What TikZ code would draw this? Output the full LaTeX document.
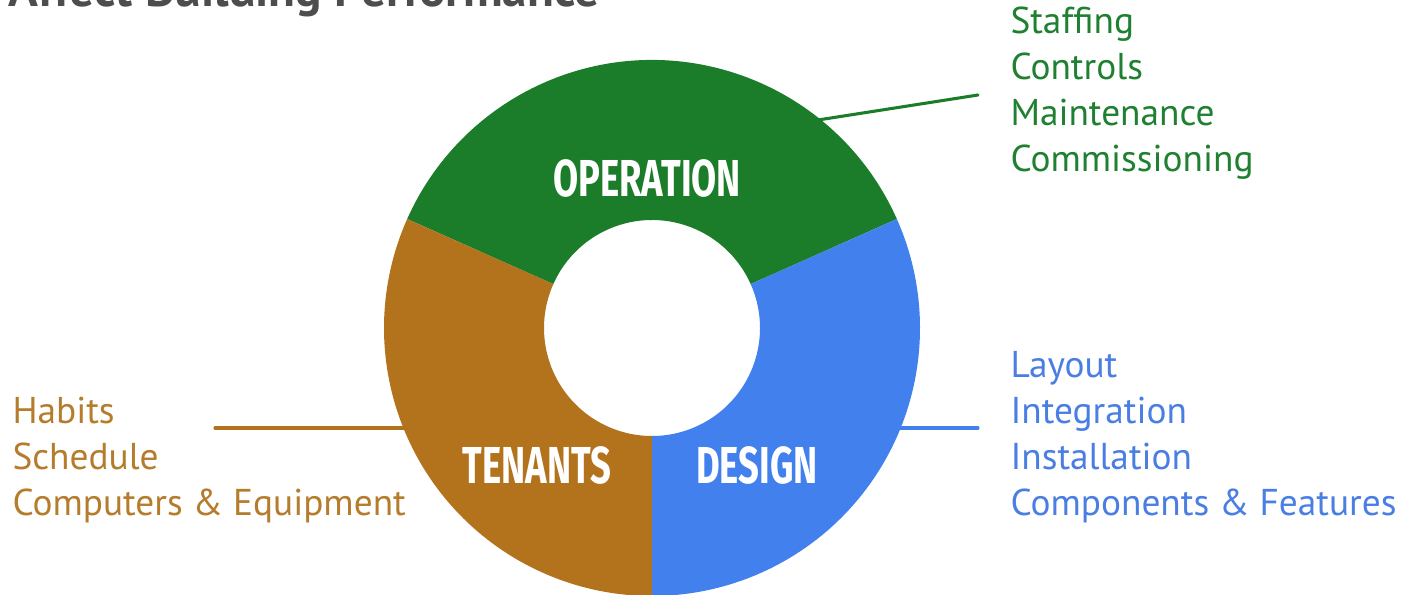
\documentclass[tikz,border=0pt]{standalone}
\usepackage{fontspec}
\setmainfont{PT Sans}
\newfontfamily\capfont{Fira Sans}[FakeStretch=0.7]

\definecolor{opgreen}{RGB}{27,125,41}
\definecolor{opgreentext}{RGB}{30,128,48}
\definecolor{tenbrown}{RGB}{178,115,28}
\definecolor{tenbrowntext}{RGB}{181,124,44}
\definecolor{desblue}{RGB}{66,128,238}
\definecolor{desbluetext}{RGB}{74,126,226}
\definecolor{titlegray}{RGB}{77,77,77}

\tikzset{every picture/.style={line width=0.75pt}}
\tikzset{
  itemtext/.style={anchor=base west, inner sep=0pt, font=\fontsize{28}{33}\selectfont},
  ringlabel/.style={text=white, inner sep=0pt, font=\capfont\bfseries\fontsize{39}{44}\selectfont},
  link/.style={line width=2.3pt, line cap=round}
}

\begin{document}
\begin{tikzpicture}[x=0.75pt,y=0.75pt,yscale=-1,xscale=1]
\path[use as bounding box, clip] (0,0) rectangle (1406,595);

% Title Node (runs off the top edge)
\draw (8,7) node (title) [anchor=base west, inner sep=0pt, text=titlegray, font=\bfseries\fontsize{37}{42}\selectfont] {Affect Building Performance};

% ends of the leader lines
\coordinate (opEdge) at (818,120);
\coordinate (opEnd) at (978,95);
\coordinate (tenEnd) at (215,428);
\coordinate (tenEdge) at (405,428);
\coordinate (desEdge) at (898,428);
\coordinate (desEnd) at (978,428);

%Straight Lines
\draw [link, opgreen] (opEdge) -- (opEnd);
\draw [link, tenbrown] (tenEnd) -- (tenEdge);
\draw [link, desblue] (desEdge) -- (desEnd);

% the ring, in its own frame (centre of the hole, angles upward)
\begin{scope}[shift={(652,328)}, yscale=-1]
%Shape: Arc [operation]
\fill [opgreen] (24:108) -- (24:268) arc [start angle=24, end angle=156, radius=268] -- (156:108) arc [start angle=156, end angle=24, radius=108] -- cycle;
%Shape: Arc [tenants]
\fill [tenbrown] (156:108) -- (156:268) arc [start angle=156, end angle=270, radius=268] -- (270:108) arc [start angle=270, end angle=156, radius=108] -- cycle;
%Shape: Arc [design]
\fill [desblue] (270:108) -- (270:268) arc [start angle=270, end angle=384, radius=268] -- (24:108) arc [start angle=24, end angle=-90, radius=108] -- cycle;
\end{scope}

% Text Node
\draw (647,178) node (operation) [ringlabel] {OPERATION};
% Text Node
\draw (537,465) node (tenants) [ringlabel] {TENANTS};
% Text Node
\draw (757,465) node (design) [ringlabel] {DESIGN};

% Text Node
\draw (1010,34) node (staffing) [itemtext, text=opgreentext] {Staffing};
% Text Node
\draw (1010,80) node (controls) [itemtext, text=opgreentext] {Controls};
% Text Node
\draw (1010,126) node (maintenance) [itemtext, text=opgreentext] {Maintenance};
% Text Node
\draw (1010,172) node (commissioning) [itemtext, text=opgreentext] {Commissioning};

% Text Node
\draw (12,423) node (habits) [itemtext, text=tenbrowntext] {Habits};
% Text Node
\draw (12,469) node (schedule) [itemtext, text=tenbrowntext] {Schedule};
% Text Node
\draw (12,515) node (computers) [itemtext, text=tenbrowntext] {Computers \& Equipment};

% Text Node
\draw (1010,377) node (layout) [itemtext, text=desbluetext] {Layout};
% Text Node
\draw (1010,423) node (integration) [itemtext, text=desbluetext] {Integration};
% Text Node
\draw (1010,469) node (installation) [itemtext, text=desbluetext] {Installation};
% Text Node
\draw (1010,515) node (components) [itemtext, text=desbluetext] {Components \& Features};

\end{tikzpicture}
\end{document}
